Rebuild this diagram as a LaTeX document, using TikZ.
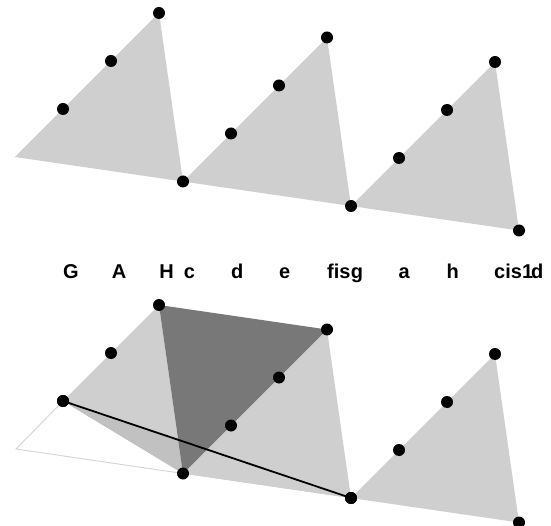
\documentclass[tikz,border=0pt]{standalone}
\usepackage{fontspec}
\setmainfont{Liberation Sans}
\definecolor{lgray}{HTML}{CFCFCF}
\definecolor{mgray}{HTML}{C1C1C1}
\definecolor{dgray}{HTML}{787878}
\definecolor{edgegray}{HTML}{D4D4D4}
\begin{document}
\begin{tikzpicture}[x=1pt,y=-1pt,
  dot/.style={circle,fill=black,inner sep=0pt,minimum size=12pt},
  lab/.style={font=\fontsize{20}{22}\selectfont\bfseries,inner sep=0pt,anchor=base},
  lightface/.style={fill=lgray},
  darkface/.style={fill=dgray},
  wedge/.style={fill=mgray},
  ghost/.style={draw=edgegray,line width=0.9pt,line join=miter},
  chord/.style={draw=black,line width=1.8pt}]
\useasboundingbox (0,0) rectangle (551,526);
\fill[white] (0,0) rectangle (551,526);
% ---------- upper lattice points ----------
\coordinate (u0) at (15,157);
\coordinate (u1) at (63,109);
\coordinate (u2) at (111,61);
\coordinate (u3) at (159,13);
\coordinate (u4) at (183,181.5);
\coordinate (u5) at (231,133.5);
\coordinate (u6) at (279,85.5);
\coordinate (u7) at (327,37.5);
\coordinate (u8) at (351,206);
\coordinate (u9) at (399,158);
\coordinate (u10) at (447,110);
\coordinate (u11) at (495,62);
\coordinate (u12) at (519,230.5);
% ---------- lower lattice points ----------
\coordinate (l0) at (16,449);
\coordinate (l1) at (63,401);
\coordinate (l2) at (111,353);
\coordinate (l3) at (159,305);
\coordinate (l4) at (183,473.5);
\coordinate (l5) at (231,425.5);
\coordinate (l6) at (279,377.5);
\coordinate (l7) at (327,329.5);
\coordinate (l8) at (351,498);
\coordinate (l9) at (399,450);
\coordinate (l10) at (447,402);
\coordinate (l11) at (495,354);
\coordinate (l12) at (519,522.5);
% ---------- upper triangles ----------
\path[lightface] (u0) -- (u3) -- (u4) -- cycle;
\path[lightface] (u4) -- (u7) -- (u8) -- cycle;
\path[lightface] (u8) -- (u11) -- (u12) -- cycle;
% ---------- lower picture ----------
\path[lightface] (l1) -- (l3) -- (l4) -- cycle;
\path[wedge] (l1) -- (l4) -- (l8) -- cycle;
\path[lightface] (l4) -- (l7) -- (l8) -- cycle;
\path[lightface] (l8) -- (l11) -- (l12) -- cycle;
\path[darkface] (l3) -- (l7) -- (l4) -- cycle;
\path[ghost] (l1) -- (l0) -- (l4);
% ---------- dots ----------
\foreach \i in {1,...,12} {
  \node[dot] (du\i) at (u\i) {};
  \node[dot] (dl\i) at (l\i) {};
}
\draw[chord] (dl1.center) -- (dl8.center);
\node[dot] at (l1) {};
\node[dot] at (l8) {};
% ---------- labels ----------
\node[lab] (tG) at (71,278.5) {G};
\node[lab] (tA) at (119,278.5) {A};
\node[lab] (tH) at (166.7,278.5) {H};
\node[lab] (tc) at (189.5,278.5) {c};
\node[lab] (td) at (237.3,278.5) {d};
\node[lab] (te) at (284.7,278.5) {e};
\node[lab,anchor=base east] (tfis) at (350.7,278.5) {fis};
\node[lab,anchor=base west] (tg) at (350.7,278.5) {g};
\node[lab] (ta) at (404.3,278.5) {a};
\node[lab] (th) at (452.7,278.5) {h};
\node[lab,anchor=base west] (tcis) at (494,278.5) {cis1};
\node[lab,anchor=base west] (td2) at (531,278.5) {d};
\end{tikzpicture}
\end{document}
